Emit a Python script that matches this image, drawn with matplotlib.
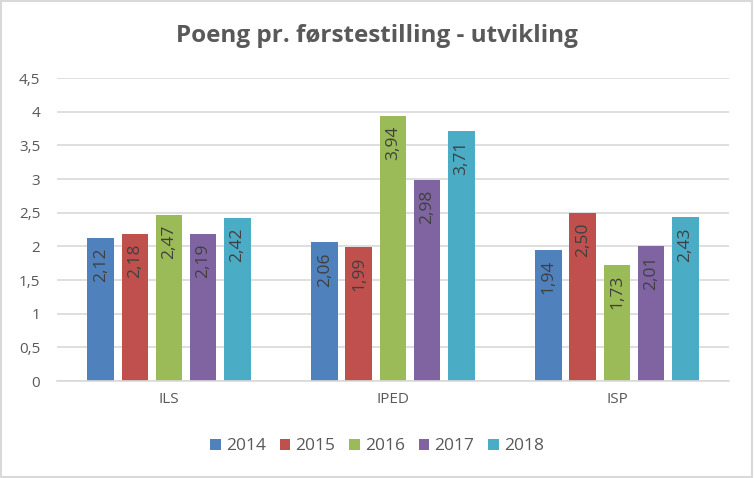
import numpy as np
import matplotlib.pyplot as plt
from matplotlib.patches import Rectangle

categories = ["ILS", "IPED", "ISP"]
years = ["2014", "2015", "2016", "2017", "2018"]
values = {
    "2014": [2.12, 2.06, 1.94],
    "2015": [2.18, 1.99, 2.50],
    "2016": [2.47, 3.94, 1.73],
    "2017": [2.19, 2.98, 2.01],
    "2018": [2.42, 3.71, 2.43],
}
colors = ["#4F81BD", "#C0504D", "#9BBB59", "#8064A2", "#4BACC6"]
yticks = [0, 0.5, 1, 1.5, 2, 2.5, 3, 3.5, 4, 4.5]


def fmt(v):
    s = f"{v:.2f}".replace(".", ",")
    return s


def tick_fmt(v):
    s = f"{v:g}".replace(".", ",")
    return s


def main():
    plt.rcParams["font.family"] = ["Open Sans", "DejaVu Sans"]
    fig = plt.figure(figsize=(7.54, 4.78), dpi=100)
    fig.patches.append(Rectangle((0.001, 0.002), 0.997, 0.995, transform=fig.transFigure,
                                 fill=False, edgecolor="#d9d9d9", linewidth=1.5))
    ax = fig.add_axes([0.0756, 0.2029, 0.8912, 0.6339])

    x = np.arange(len(categories))
    width = 0.12
    step = 0.152
    for i, (yr, col) in enumerate(zip(years, colors)):
        pos = x + (i - 2) * step
        bars = ax.bar(pos, values[yr], width=width, color=col, zorder=3, label=yr)
        for b, v in zip(bars, values[yr]):
            ax.annotate(fmt(v), (b.get_x() + b.get_width() / 2, v),
                        xytext=(0, -7), textcoords="offset points",
                        rotation=90, ha="center", va="top",
                        fontsize=12.5, color="#404040", zorder=4)

    ax.set_xlim(-0.5, 2.5)
    ax.set_ylim(0, 4.5)
    ax.set_yticks(yticks)
    ax.set_yticklabels([tick_fmt(t) for t in yticks])
    ax.set_xticks(x)
    ax.set_xticklabels(categories)
    ax.tick_params(axis="both", length=0, colors="#595959", labelsize=11)
    ax.tick_params(axis="x", pad=8)
    ax.tick_params(axis="y", pad=12)
    ax.grid(axis="y", color="#d9d9d9", linewidth=1.2, zorder=0)
    for s in ["top", "right", "left"]:
        ax.spines[s].set_visible(False)
    ax.spines["bottom"].set_color("#d9d9d9")
    ax.spines["bottom"].set_linewidth(1.2)
    ax.spines["bottom"].set_zorder(3)

    fig.text(0.5, 0.925, "Poeng pr. førstestilling - utvikling", ha="center", va="center",
             fontsize=17.5, fontweight="bold", color="#595959")

    fig.legend(loc="center", bbox_to_anchor=(0.5, 0.066), ncol=5, frameon=False,
               fontsize=12.5, labelcolor="#595959", handlelength=0.6, handleheight=0.6,
               handletextpad=0.3, columnspacing=0.8)

    fig.savefig("out.png", dpi=100)
    plt.close(fig)


if __name__ == "__main__":
    main()
